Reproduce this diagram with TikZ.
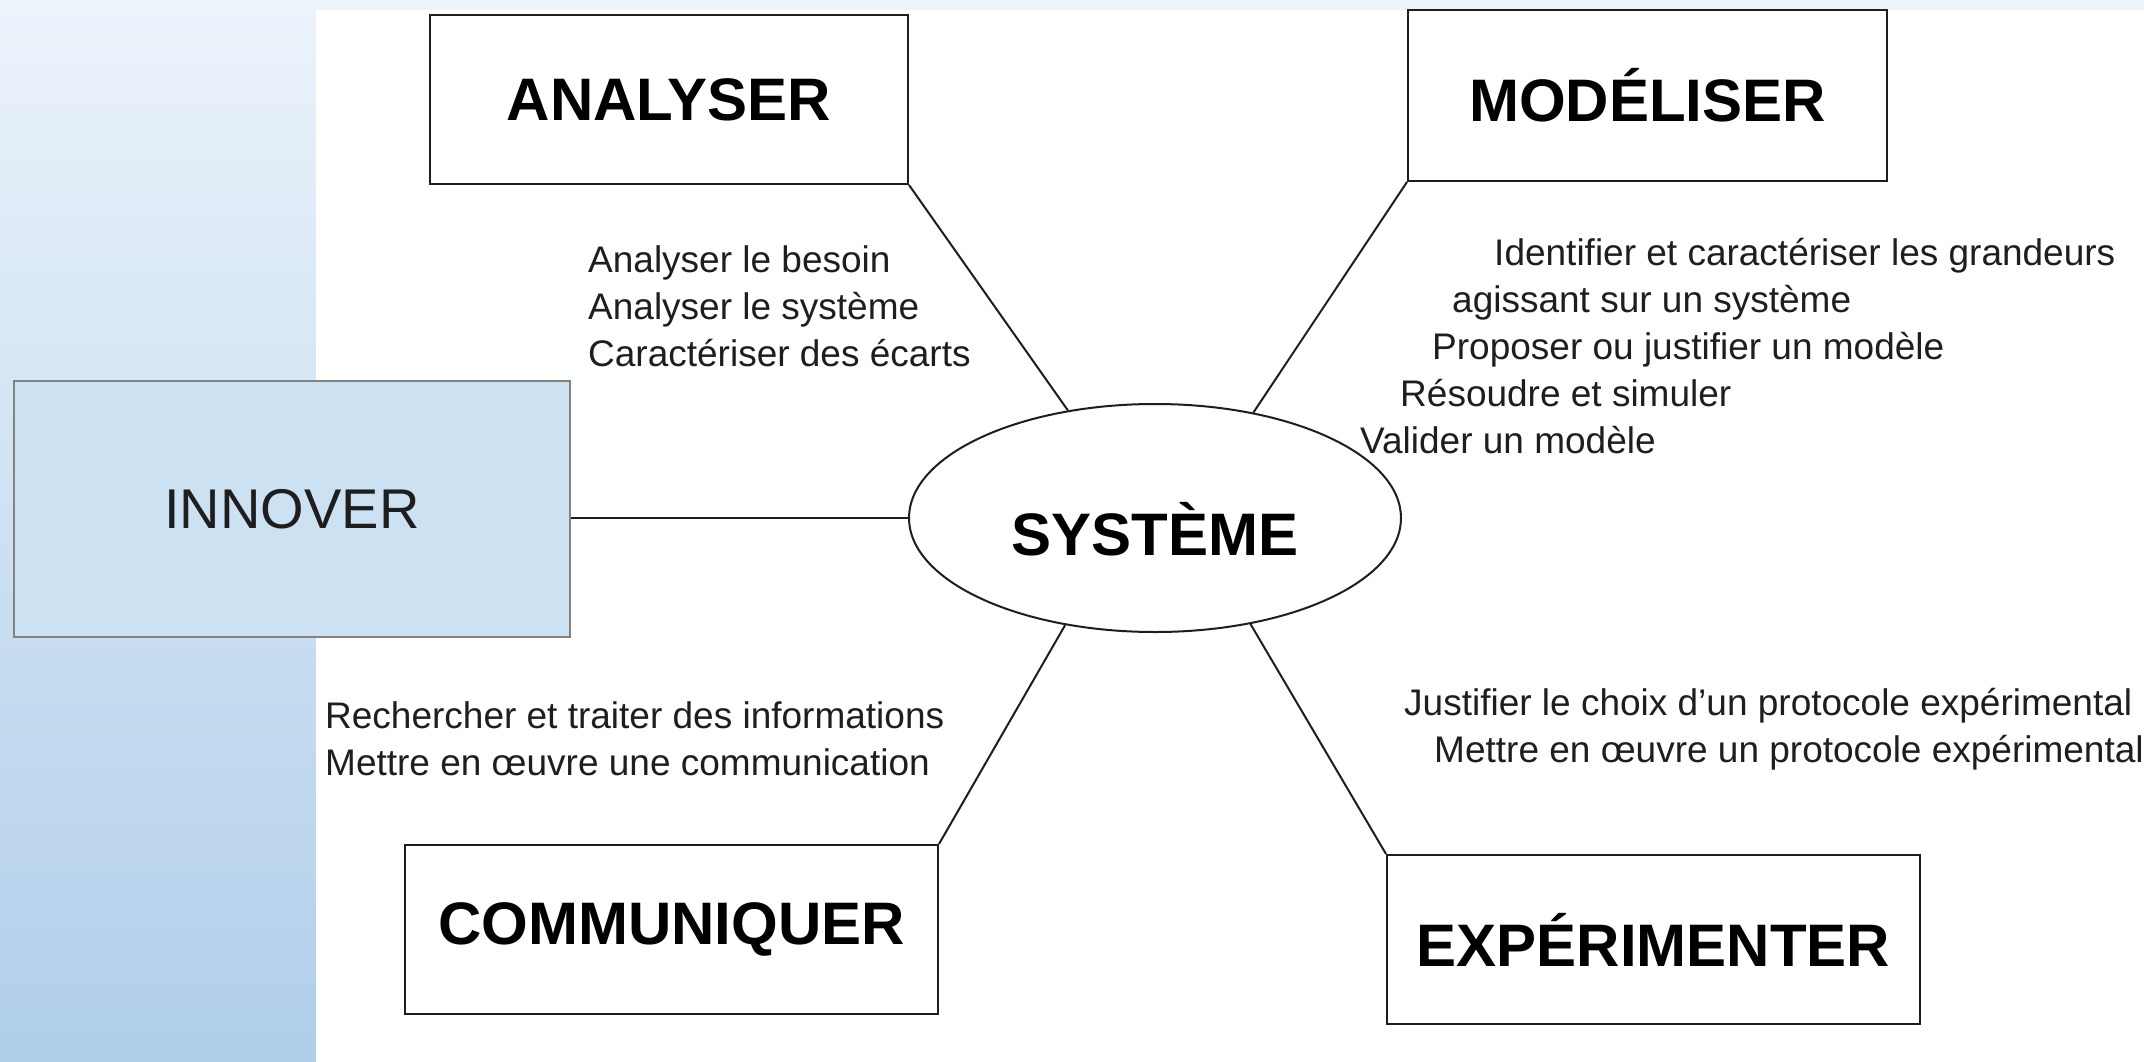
\documentclass[tikz,border=0pt]{standalone}
\usepackage{fontspec}
\setmainfont{Liberation Sans}
\usetikzlibrary{shapes.geometric}
\definecolor{bgtop}{RGB}{236,243,251}
\definecolor{bgbot}{RGB}{176,206,234}
\definecolor{innfill}{RGB}{204,226,242}
\definecolor{innedge}{RGB}{130,130,130}
\definecolor{ink}{RGB}{30,30,30}
\begin{document}
\begin{tikzpicture}[x=1pt,y=-1pt,
  box/.style={draw=ink, line width=2pt, fill=white, inner sep=0pt,
    font=\fontsize{60}{72}\selectfont\bfseries},
  link/.style={draw=ink, line width=2pt},
  skill/.style={inner sep=0pt, anchor=north west, align=left, text=ink,
    font=\fontsize{37}{47}\selectfont}]
\useasboundingbox (0,0) rectangle (2144,1062);
\fill[top color=bgtop, bottom color=bgbot] (0,0) rectangle (2144,1062);
\fill[white] (316,10) rectangle (2144,1062);

\node[box, minimum width=478pt, minimum height=169pt] (ana) at (669,99.5) {ANALYSER};
\node[box, minimum width=479pt, minimum height=171pt] (mod) at (1647.5,95.5) {MODÉLISER};
\node[box, minimum width=533pt, minimum height=169pt] (com) at (671.5,929.5) {COMMUNIQUER};
\node[box, minimum width=533pt, minimum height=169pt] (exp) at (1653.5,939.5) {EXPÉRIMENTER};
\node[draw=innedge, fill=innfill, line width=2pt, inner sep=0pt, minimum width=556pt,
  minimum height=256pt, text=ink, font=\fontsize{56}{66}\selectfont] (inn) at (292,509) {INNOVER};
\node[box, ellipse, minimum width=492pt, minimum height=228pt, text height=74pt,
  text depth=0pt] (sys) at (1155,518) {SYSTÈME};

\draw[link] (ana.south east) -- (sys.129.5);
\draw[link] (mod.south west) -- (sys.47.9);
\draw[link] (com.north east) -- (sys.230.7);
\draw[link] (exp.north west) -- (sys.312.4);
\draw[link] (inn.east |- sys.west) -- (sys.west);

\node[skill] (tana) at (588,245) {Analyser le besoin\\Analyser le système\\Caractériser des écarts};
\node[skill] (tmod) at (1360,238) {\hspace*{134pt}Identifier et caractériser les grandeurs\\
  \hspace*{92pt}agissant sur un système\\
  \hspace*{72pt}Proposer ou justifier un modèle\\
  \hspace*{40pt}Résoudre et simuler\\
  Valider un modèle};
\node[skill] (tcom) at (325,701) {Rechercher et traiter des informations\\Mettre en œuvre une communication};
\node[skill] (texp) at (1404,688) {Justifier le choix d’un protocole expérimental\\
  \hspace*{30pt}Mettre en œuvre un protocole expérimental};
\end{tikzpicture}
\end{document}
